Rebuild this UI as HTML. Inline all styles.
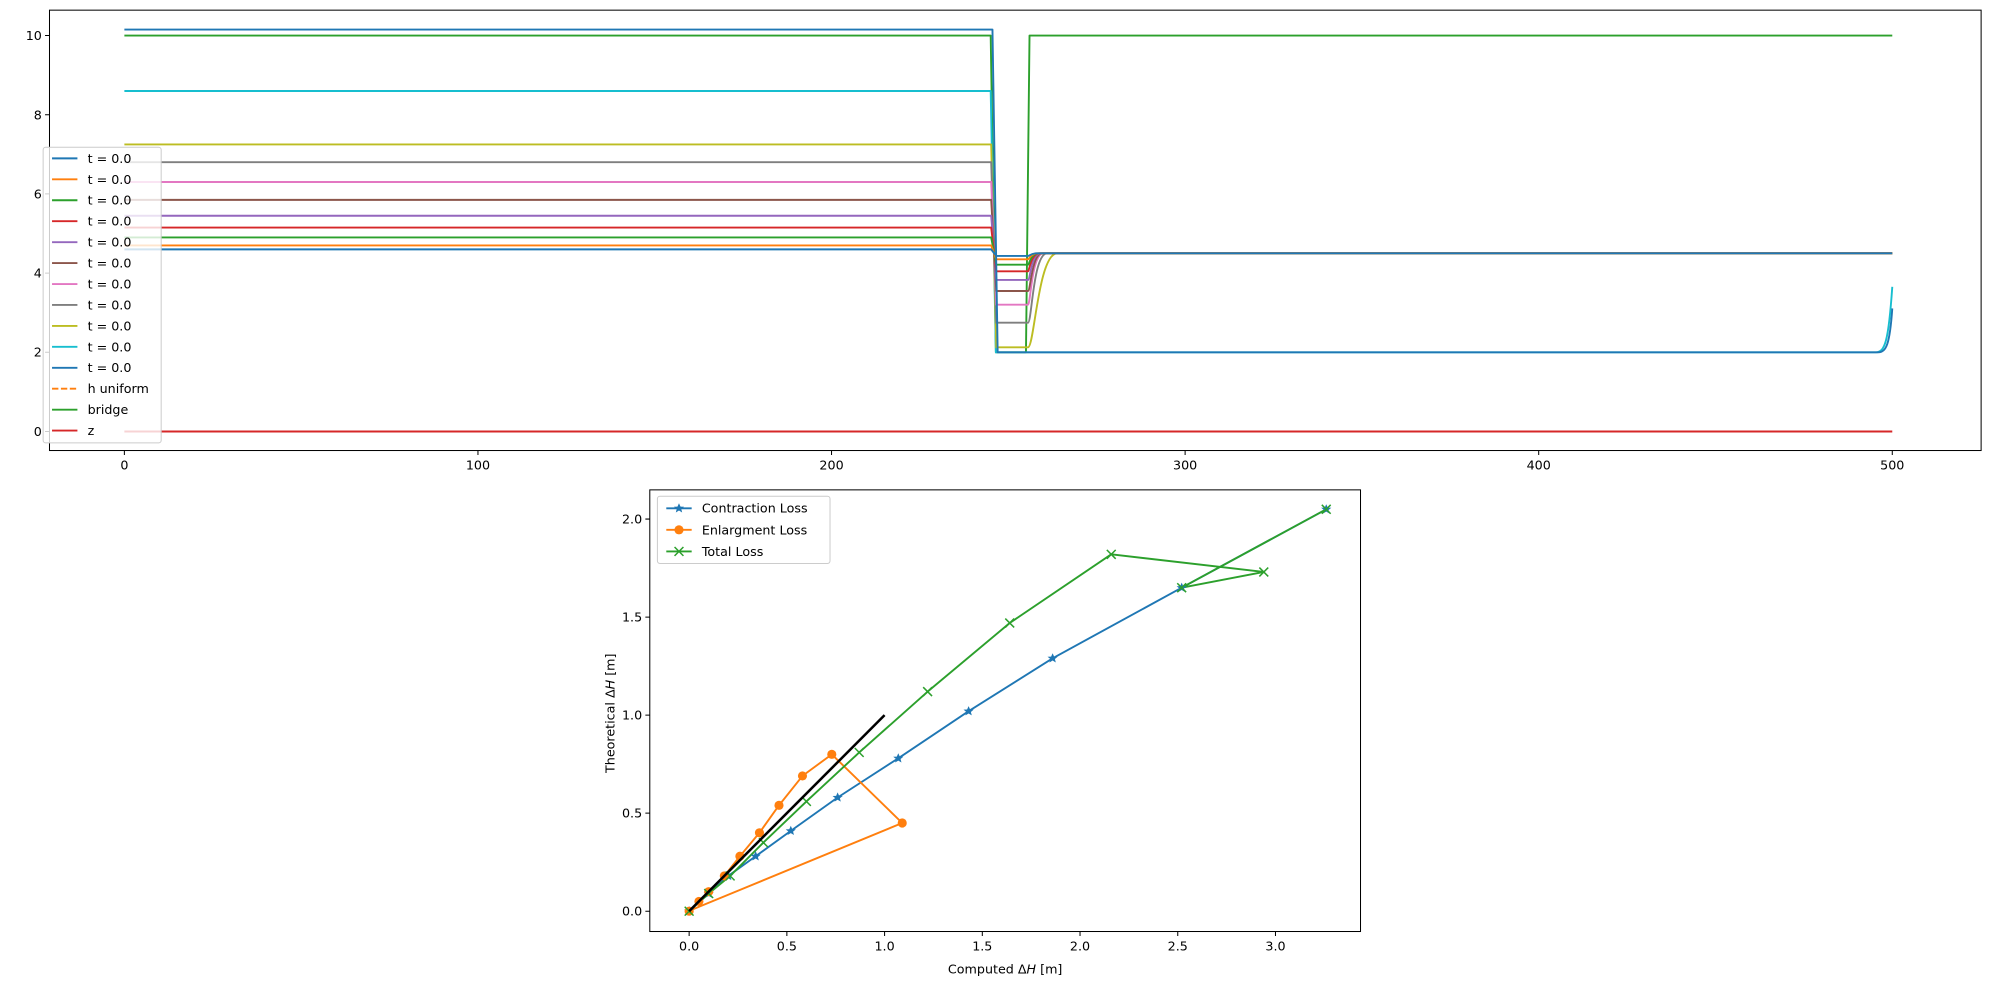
<!DOCTYPE html>
<html><head><meta charset="utf-8"><style>
html,body{margin:0;padding:0;background:#fff;}
svg{display:block;}
text{font-family:"DejaVu Sans","Liberation Sans",sans-serif;fill:#000;}
</style></head><body>
<svg width="1990" height="989" viewBox="0 0 1568 779.3" preserveAspectRatio="none" xmlns="http://www.w3.org/2000/svg">
<defs>
<g id="xm"><path d="M-3.5,-3.5L3.5,3.5M-3.5,3.5L3.5,-3.5" stroke="#2ca02c" stroke-width="1.2"/></g>
<g id="st"><path d="M0,-4L1.2,-1.3L4,-1.2L1.8,0.6L2.5,3.3L0,1.8L-2.5,3.3L-1.8,0.6L-4,-1.2L-1.2,-1.3Z" fill="#1f77b4"/></g>
<circle id="ci" r="3.6" fill="#ff7f0e"/>
</defs>
<rect width="1568" height="779.3" fill="#fff"/>
<!-- TOP PLOT -->
<g fill="none" stroke-width="1.5" stroke-linejoin="round">
<path d="M98,340H1491" stroke="#d62728"/>
<path d="M98,28H780.6L784.7,277.6H808.4L811.2,28H1491" stroke="#2ca02c"/>
<path d="M98,71.7H780.6L784.7,277.6H1478C1485,277.6 1488,270 1491,226" stroke="#17becf"/>
<path d="M98,113.8H781L785,273.7H810C815,273.7 818,200 833,199.6H1491" stroke="#bcbd22"/>
<path d="M98,127.8H781L785,254.3H810C813,254.3 814,200 825,199.6H1491" stroke="#7f7f7f"/>
<path d="M98,143.4H781L785,240.1H810C812,240.1 813,200 822,199.6H1491" stroke="#e377c2"/>
<path d="M98,157.5H781L785,229.3H810C812,229.3 813,200 821,199.6H1491" stroke="#8c564b"/>
<path d="M98,170H781L785,220.6H810C812,220.6 812,200 820,199.6H1491" stroke="#9467bd"/>
<path d="M98,179.3H781L785,213.8H810C811,213.8 812,200 819,199.6H1491" stroke="#d62728"/>
<path d="M98,187.1H781L785,208.6H810C811,208.6 812,200 818,199.6H1491" stroke="#2ca02c"/>
<path d="M98,193.4H781L785,204.3H810C811,204.3 812,200 817,199.6H1491" stroke="#ff7f0e"/>
<path d="M98,196.5H781L785,201.7H810C811,201.7 812,200 816,199.6H1491" stroke="#1f77b4"/>
<path d="M98,23.3H782L786.1,277.6H1480C1486,277.6 1489,272 1491,243" stroke="#1f77b4"/>
</g>
<rect x="39" y="8" width="1522" height="347" fill="none" stroke="#000" stroke-width="0.8"/>
<g stroke="#000" stroke-width="0.8">
<path d="M98,355v3.5M376.6,355v3.5M655.2,355v3.5M933.8,355v3.5M1212.4,355v3.5M1491,355v3.5"/>
<path d="M39,340h-3.5M39,277.6h-3.5M39,215.2h-3.5M39,152.8h-3.5M39,90.4h-3.5M39,28h-3.5"/>
</g>
<g font-size="10" text-anchor="middle">
<text x="98" y="370">0</text><text x="376.6" y="370">100</text><text x="655.2" y="370">200</text><text x="933.8" y="370">300</text><text x="1212.4" y="370">400</text><text x="1491" y="370">500</text>
</g>
<g font-size="10" text-anchor="end">
<text x="33" y="343.5">0</text><text x="33" y="281">2</text><text x="33" y="218.7">4</text><text x="33" y="156.3">6</text><text x="33" y="94">8</text><text x="33" y="31.5">10</text>
</g>
<rect x="34" y="116" width="93" height="233" rx="2" fill="#fff" fill-opacity="0.8" stroke="#ccc" stroke-width="0.8"/>
<g stroke-width="1.5" fill="none">
<path d="M41,124.8h20" stroke="#1f77b4"/><path d="M41,141.3h20" stroke="#ff7f0e"/><path d="M41,157.8h20" stroke="#2ca02c"/><path d="M41,174.3h20" stroke="#d62728"/><path d="M41,190.8h20" stroke="#9467bd"/><path d="M41,207.3h20" stroke="#8c564b"/><path d="M41,223.8h20" stroke="#e377c2"/><path d="M41,240.3h20" stroke="#7f7f7f"/><path d="M41,256.8h20" stroke="#bcbd22"/><path d="M41,273.3h20" stroke="#17becf"/><path d="M41,289.8h20" stroke="#1f77b4"/><path d="M41,306.3h20" stroke="#ff7f0e" stroke-dasharray="5,2"/><path d="M41,322.8h20" stroke="#2ca02c"/><path d="M41,339.3h20" stroke="#d62728"/>
</g>
<g font-size="10">
<text x="69" y="128.3">t = 0.0</text><text x="69" y="144.8">t = 0.0</text><text x="69" y="161.3">t = 0.0</text><text x="69" y="177.8">t = 0.0</text><text x="69" y="194.3">t = 0.0</text><text x="69" y="210.8">t = 0.0</text><text x="69" y="227.3">t = 0.0</text><text x="69" y="243.8">t = 0.0</text><text x="69" y="260.3">t = 0.0</text><text x="69" y="276.8">t = 0.0</text><text x="69" y="293.3">t = 0.0</text><text x="69" y="309.8">h uniform</text><text x="69" y="326.3">bridge</text><text x="69" y="342.8">z</text>
</g>
<!-- BOTTOM PLOT -->
<g fill="none" stroke-width="1.5" stroke-linejoin="round">
<polyline stroke="#1f77b4" points="543,718 558.4,704.1 573.8,690.2 595.4,674.7 623.1,654.7 660,628.4 707.8,597.5 763.2,560.4 829.4,518.7 931.1,463.1 1045,401.3"/>
<polyline stroke="#ff7f0e" points="543,718 550.7,710.3 558.4,702.6 570.7,690.2 583,674.7 598.4,656.2 613.8,634.6 632.3,611.4 655.4,594.4 710.9,648.5 546,716.5"/>
<polyline stroke="#2ca02c" points="543,718 558.4,704.1 575.3,690.2 601.5,663.9 635.4,631.5 677,592.9 730.9,545 795.6,490.9 875.6,436.8 995.8,450.7 931.1,463.1 1045,401.3"/>
</g>
<g>
<use href="#st" x="543" y="718"/><use href="#st" x="558.4" y="704.1"/><use href="#st" x="573.8" y="690.2"/><use href="#st" x="595.4" y="674.7"/><use href="#st" x="623.1" y="654.7"/><use href="#st" x="660" y="628.4"/><use href="#st" x="707.8" y="597.5"/><use href="#st" x="763.2" y="560.4"/><use href="#st" x="829.4" y="518.7"/><use href="#st" x="931.1" y="463.1"/><use href="#st" x="1045" y="401.3"/>
<use href="#ci" x="543" y="718"/><use href="#ci" x="550.7" y="710.3"/><use href="#ci" x="558.4" y="702.6"/><use href="#ci" x="570.7" y="690.2"/><use href="#ci" x="583" y="674.7"/><use href="#ci" x="598.4" y="656.2"/><use href="#ci" x="613.8" y="634.6"/><use href="#ci" x="632.3" y="611.4"/><use href="#ci" x="655.4" y="594.4"/><use href="#ci" x="710.9" y="648.5"/>
<use href="#xm" x="543" y="718"/><use href="#xm" x="558.4" y="704.1"/><use href="#xm" x="575.3" y="690.2"/><use href="#xm" x="601.5" y="663.9"/><use href="#xm" x="635.4" y="631.5"/><use href="#xm" x="677" y="592.9"/><use href="#xm" x="730.9" y="545"/><use href="#xm" x="795.6" y="490.9"/><use href="#xm" x="875.6" y="436.8"/><use href="#xm" x="995.8" y="450.7"/><use href="#xm" x="931.1" y="463.1"/><use href="#xm" x="1045" y="401.3"/>
</g>
<path d="M543,718L697,563.5" stroke="#000" stroke-width="2"/>
<rect x="512" y="386" width="560" height="348" fill="none" stroke="#000" stroke-width="0.8"/>
<g stroke="#000" stroke-width="0.8">
<path d="M543,734v3.5M620,734v3.5M697,734v3.5M774,734v3.5M851,734v3.5M928,734v3.5M1005,734v3.5"/>
<path d="M512,718h-3.5M512,640.75h-3.5M512,563.5h-3.5M512,486.25h-3.5M512,409h-3.5"/>
</g>
<g font-size="10" text-anchor="middle">
<text x="543" y="749">0.0</text><text x="620" y="749">0.5</text><text x="697" y="749">1.0</text><text x="774" y="749">1.5</text><text x="851" y="749">2.0</text><text x="928" y="749">2.5</text><text x="1005" y="749">3.0</text>
</g>
<g font-size="10" text-anchor="end">
<text x="506" y="721.5">0.0</text><text x="506" y="644.2">0.5</text><text x="506" y="567">1.0</text><text x="506" y="489.7">1.5</text><text x="506" y="412.5">2.0</text>
</g>
<text x="792" y="767" font-size="10" text-anchor="middle">Computed Δ<tspan font-style="italic">H</tspan> [m]</text>
<text x="0" y="0" font-size="10" text-anchor="middle" transform="translate(484,562) rotate(-90)">Theoretical Δ<tspan font-style="italic">H</tspan> [m]</text>
<rect x="518" y="391" width="136" height="53" rx="2" fill="#fff" fill-opacity="0.8" stroke="#ccc" stroke-width="0.8"/>
<path d="M525,400.5h20" stroke="#1f77b4" stroke-width="1.5"/><use href="#st" x="535" y="400.5"/>
<path d="M525,417.5h20" stroke="#ff7f0e" stroke-width="1.5"/><use href="#ci" x="535" y="417.5"/>
<path d="M525,434.5h20" stroke="#2ca02c" stroke-width="1.5"/><use href="#xm" x="535" y="434.5"/>
<g font-size="10"><text x="553" y="404">Contraction Loss</text><text x="553" y="421">Enlargment Loss</text><text x="553" y="438">Total Loss</text></g>
</svg>
</body></html>
